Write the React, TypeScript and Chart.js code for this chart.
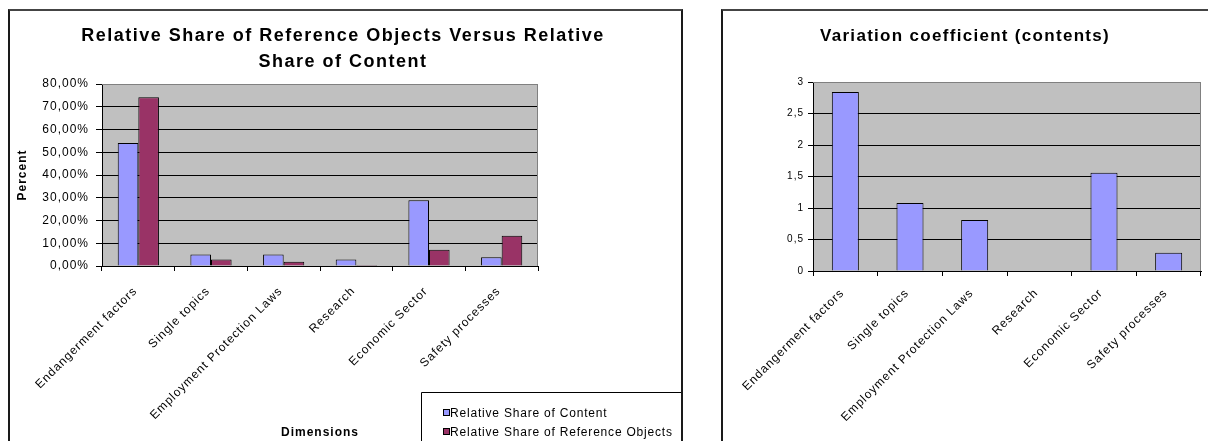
import React, { useEffect, useRef } from 'react';
import { Chart, registerables } from 'chart.js';

Chart.register(...registerables);

// ---------- data ----------
const categories = [
  'Endangerment factors',
  'Single topics',
  'Employment Protection Laws',
  'Research',
  'Economic Sector',
  'Safety processes',
];
const shareOfContent = [54.1, 5.1, 5.1, 2.9, 28.9, 3.8];
const shareOfReferenceObjects = [74.2, 2.9, 1.9, 0.4, 7.1, 13.3];
const variationCoefficient = [2.84, 1.08, 0.81, 0, 1.56, 0.29];

const leftTitleLines = ['Relative Share of Reference Objects Versus Relative', 'Share of Content'];
const rightTitleLines = ['Variation coefficient (contents)'];
const leftSeriesLabels = ['Relative Share of Content', 'Relative Share of Reference Objects'];
const leftYAxisMax = 80;
const leftYAxisStep = 10;
const rightYAxisMax = 3;
const rightYAxisStep = 0.5;

// ---------- styles ----------
const FONT = "'Liberation Sans', Arial, sans-serif";
const BLUE = '#9999FF';
const MAROON = '#993366';
const PLOT_BG = '#C0C0C0';

type FrameOpts = {
  titleLines: string[];
  titleX: number;
  titleYs: number[];
  titleSize: number;
  titleSpacing: string;
  legend?: { x: number; y: number; rowYs: number[]; squareX: number; textX: number };
};

function framePlugin(opts: FrameOpts) {
  return {
    id: 'frame',
    beforeLayout(chart: any) {
      chart.ctx.letterSpacing = '1px';
    },
    beforeDraw(chart: any) {
      const { ctx, chartArea: a } = chart;
      ctx.letterSpacing = '1px';
      ctx.save();
      ctx.fillStyle = PLOT_BG;
      ctx.fillRect(a.left, a.top, a.right - a.left, a.bottom - a.top);
      ctx.restore();
    },
    beforeDatasetsDraw(chart: any) {
      const { ctx, chartArea: a } = chart;
      ctx.save();
      ctx.strokeStyle = '#808080';
      ctx.lineWidth = 1;
      const t = Math.round(a.top) + 0.5;
      const r = Math.round(a.right) - 0.5;
      ctx.beginPath();
      ctx.moveTo(a.left, t);
      ctx.lineTo(r, t);
      ctx.lineTo(r, a.bottom);
      ctx.stroke();
      ctx.restore();
    },
    afterDraw(chart: any) {
      const { ctx } = chart;
      ctx.save();
      ctx.letterSpacing = opts.titleSpacing;
      ctx.fillStyle = '#000';
      ctx.font = `bold ${opts.titleSize}px ${FONT}`;
      ctx.textAlign = 'center';
      ctx.textBaseline = 'middle';
      opts.titleLines.forEach((line, i) => ctx.fillText(line, opts.titleX, opts.titleYs[i]));
      if (opts.legend) {
        const L = opts.legend;
        ctx.letterSpacing = '0.8px';
        ctx.strokeStyle = '#000';
        ctx.lineWidth = 1;
        ctx.beginPath();
        ctx.moveTo(L.x + 0.5, chart.height + 5);
        ctx.lineTo(L.x + 0.5, L.y + 0.5);
        ctx.lineTo(chart.width + 5, L.y + 0.5);
        ctx.stroke();
        ctx.font = `12px ${FONT}`;
        ctx.textAlign = 'left';
        chart.data.datasets.forEach((ds: any, i: number) => {
          const y = L.rowYs[i];
          ctx.fillStyle = ds.backgroundColor;
          ctx.fillRect(L.squareX + 0.5, y - 3.5, 6, 6);
          ctx.strokeRect(L.squareX + 0.5, y - 3.5, 6, 6);
          ctx.fillStyle = '#000';
          ctx.fillText(ds.label, L.textX, y + 0.5);
        });
      }
      ctx.restore();
    },
  };
}

function leftConfig(): any {
  return {
    type: 'bar',
    data: {
      labels: categories,
      datasets: [
        {
          label: leftSeriesLabels[0],
          data: shareOfContent,
          backgroundColor: BLUE,
          borderColor: '#000',
          borderWidth: 1,
          categoryPercentage: 0.567,
          barPercentage: 1,
        },
        {
          label: leftSeriesLabels[1],
          data: shareOfReferenceObjects,
          backgroundColor: MAROON,
          borderColor: '#000',
          borderWidth: 1,
          categoryPercentage: 0.567,
          barPercentage: 1,
        },
      ],
    },
    options: {
      responsive: false,
      animation: false,
      events: [],
      layout: { padding: { left: 0, right: 143, top: 73, bottom: 0 } },
      plugins: { legend: { display: false }, title: { display: false }, tooltip: { enabled: false } },
      scales: {
        x: {
          grid: { offset: true, drawOnChartArea: false, drawTicks: true, tickLength: 5, color: '#000', tickColor: '#000' },
          border: { color: '#000', width: 1 },
          ticks: {
            autoSkip: false,
            minRotation: 45,
            maxRotation: 45,
            padding: 13,
            labelOffset: -3,
            color: '#000',
            font: { family: FONT, size: 12 },
          },
          title: {
            display: true,
            text: 'Dimensions',
            color: '#000',
            font: { family: FONT, size: 12, weight: 'bold' },
            padding: { top: 0, bottom: 1 },
          },
          afterFit: (s: any) => {
            s.height = 175;
          },
        },
        y: {
          min: 0,
          max: leftYAxisMax,
          ticks: {
            stepSize: leftYAxisStep,
            padding: 7,
            color: '#000',
            font: { family: FONT, size: 12 },
            callback: (v: any) => Number(v).toFixed(2).replace('.', ',') + '%',
          },
          grid: {
            color: (c: any) => (c.tick && c.tick.value === leftYAxisMax ? '#808080' : '#000'),
            tickColor: '#000',
            tickLength: 6,
            drawTicks: true,
          },
          border: { color: '#000', width: 1 },
          title: {
            display: true,
            text: 'Percent',
            color: '#000',
            font: { family: FONT, size: 12, weight: 'bold' },
            padding: { top: 5, bottom: 0 },
          },
          afterFit: (s: any) => {
            s.width = 92;
          },
        },
      },
    },
    plugins: [
      framePlugin({
        titleLines: leftTitleLines,
        titleX: 333,
        titleYs: [25, 51],
        titleSize: 18,
        titleSpacing: '1.5px',
        legend: { x: 411, y: 381, rowYs: [402, 421], squareX: 433, textX: 440 },
      }),
    ],
  };
}

function rightConfig(): any {
  return {
    type: 'bar',
    data: {
      labels: categories,
      datasets: [
        {
          label: 'Variation coefficient (contents)',
          data: variationCoefficient,
          backgroundColor: BLUE,
          borderColor: '#000',
          borderWidth: 1,
          categoryPercentage: 0.418,
          barPercentage: 1,
        },
      ],
    },
    options: {
      responsive: false,
      animation: false,
      events: [],
      layout: { padding: { left: 0, right: 7, top: 71, bottom: 0 } },
      plugins: { legend: { display: false }, title: { display: false }, tooltip: { enabled: false } },
      scales: {
        x: {
          grid: { offset: true, drawOnChartArea: false, drawTicks: true, tickLength: 5, color: '#000', tickColor: '#000' },
          border: { color: '#000', width: 1 },
          ticks: {
            autoSkip: false,
            minRotation: 45,
            maxRotation: 45,
            padding: 10,
            labelOffset: -3,
            color: '#000',
            font: { family: FONT, size: 12 },
          },
          afterFit: (s: any) => {
            s.height = 170;
          },
        },
        y: {
          min: 0,
          max: rightYAxisMax,
          ticks: {
            stepSize: rightYAxisStep,
            padding: 4,
            color: '#000',
            font: { family: FONT, size: 10 },
            callback: (v: any) => String(Number(v)).replace('.', ','),
          },
          grid: {
            color: (c: any) => (c.tick && c.tick.value === rightYAxisMax ? '#808080' : '#000'),
            tickColor: '#000',
            tickLength: 5,
            drawTicks: true,
          },
          border: { color: '#000', width: 1 },
          afterFit: (s: any) => {
            s.width = 90;
          },
        },
      },
    },
    plugins: [
      framePlugin({
        titleLines: rightTitleLines,
        titleX: 242,
        titleYs: [25],
        titleSize: 17,
        titleSpacing: '1.3px',
      }),
    ],
  };
}

function ChartCanvas(props: { left: number; top: number; width: number; height: number; makeConfig: () => any }) {
  const ref = useRef<HTMLCanvasElement>(null);
  useEffect(() => {
    const chart = new Chart(ref.current as HTMLCanvasElement, props.makeConfig());
    return () => chart.destroy();
  }, []);
  return (
    <canvas
      ref={ref}
      width={props.width}
      height={props.height}
      style={{ position: 'absolute', left: props.left, top: props.top, width: props.width, height: props.height }}
    />
  );
}

export default function App() {
  return (
    <div style={{ position: 'fixed', left: 0, top: 0, width: 1208, height: 441, overflow: 'hidden', background: '#fff' }}>
      <div
        style={{
          position: 'absolute',
          left: 8,
          top: 9,
          width: 675,
          height: 460,
          boxSizing: 'border-box',
          borderLeft: '2px solid #1a1a1a',
          borderRight: '2px solid #1a1a1a',
          borderTop: '2px solid #444',
        }}
      />
      <div
        style={{
          position: 'absolute',
          left: 721,
          top: 9,
          width: 520,
          height: 460,
          boxSizing: 'border-box',
          borderLeft: '2px solid #1a1a1a',
          borderTop: '2px solid #444',
        }}
      />
      <ChartCanvas left={10} top={11} width={671} height={430} makeConfig={leftConfig} />
      <ChartCanvas left={723} top={11} width={485} height={430} makeConfig={rightConfig} />
    </div>
  );
}
